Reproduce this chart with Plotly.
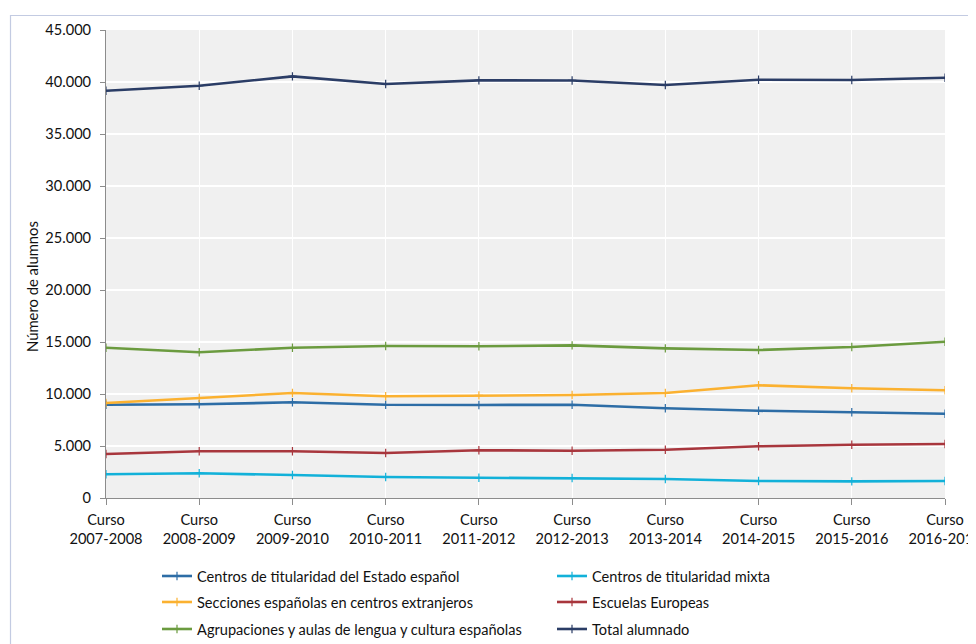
import plotly.graph_objects as go

categories = ["Curso<br>2007-2008", "Curso<br>2008-2009", "Curso<br>2009-2010", "Curso<br>2010-2011",
              "Curso<br>2011-2012", "Curso<br>2012-2013", "Curso<br>2013-2014", "Curso<br>2014-2015",
              "Curso<br>2015-2016", "Curso<br>2016-2017"]

estado = [8970, 9010, 9200, 8970, 8940, 8970, 8630, 8390, 8240, 8100]
mixta = [2280, 2380, 2210, 2020, 1950, 1920, 1830, 1640, 1600, 1640]
secciones = [9130, 9610, 10100, 9780, 9870, 9900, 10100, 10840, 10550, 10360]
escuelas = [4230, 4490, 4490, 4330, 4590, 4550, 4640, 4970, 5120, 5190]
agrupaciones = [14450, 14010, 14450, 14610, 14590, 14680, 14390, 14230, 14520, 15030]
total = [39160, 39640, 40540, 39810, 40160, 40150, 39710, 40220, 40190, 40410]

y_ticks = [0, 5000, 10000, 15000, 20000, 25000, 30000, 35000, 40000, 45000]
y_ticklabels = ["0", "5.000", "10.000", "15.000", "20.000", "25.000", "30.000", "35.000", "40.000", "45.000"]

series = [
    ("Centros de titularidad del Estado español", estado, "#2d6da6", "legend"),
    ("Centros de titularidad mixta", mixta, "#12b1d9", "legend"),
    ("Secciones españolas en centros extranjeros", secciones, "#fbb130", "legend2"),
    ("Escuelas Europeas", escuelas, "#a8363d", "legend2"),
    ("Agrupaciones y aulas de lengua y cultura españolas", agrupaciones, "#6b9b3f", "legend3"),
    ("Total alumnado", total, "#2b3d66", "legend3"),
]

FS = 14.6

fig = go.Figure()
for name, vals, col, lg in series:
    fig.add_trace(go.Scatter(
        x=list(range(len(categories))), y=vals, name=name, mode="lines+markers",
        line=dict(color=col, width=2.6), legend=lg,
        marker=dict(symbol="cross-thin-open", size=6, line=dict(color=col, width=1.2)),
    ))

OFF = 8  # page body margin
W, H = 976 - OFF, 644 - OFF
# plot area in page pixels: x 106..945, y 30..498
L, T = 106 - OFF, 30 - OFF
R = W - (945 - OFF)
B = H - (498 - OFF)
pw, ph = W - L - R, H - T - B

def px_x(p):
    return (p - OFF - L) / pw

def px_y(p):
    return (H - B - (p - OFF)) / ph

fig.add_shape(type="rect", xref="paper", yref="paper",
              x0=px_x(10.5), x1=px_x(1000), y0=px_y(15.5), y1=px_y(700),
              line=dict(color="#c3cbe2", width=1.2), fillcolor="rgba(0,0,0,0)", layer="below")

fig.add_annotation(text="Número de alumnos", xref="paper", yref="paper",
                   x=px_x(32), y=px_y(287), textangle=-90, showarrow=False,
                   font=dict(size=14.8, color="#111111"), xanchor="center", yanchor="middle")

def leg(top_page):
    return dict(orientation="h", xref="container", yref="container",
                x=(149 - OFF + 8) / W, y=1 - (top_page - OFF) / H, xanchor="left", yanchor="top",
                entrywidth=350, entrywidthmode="pixels", itemwidth=30,
                font=dict(size=FS, color="#111111"),
                bgcolor="rgba(0,0,0,0)")

fig.update_layout(
    width=W, height=H,
    margin=dict(l=L, r=R, t=T, b=B, autoexpand=False),
    paper_bgcolor="white", plot_bgcolor="#f0f0f0",
    font=dict(family="Lato, 'Open Sans', sans-serif", size=FS, color="#111111"),
    showlegend=True,
    legend=leg(560),
    legend2=leg(586),
    legend3=leg(613),
    xaxis=dict(
        range=[0, len(categories) - 1], tickmode="array",
        tickvals=list(range(len(categories))), ticktext=categories,
        showgrid=True, gridcolor="#ffffff", gridwidth=1,
        showline=True, linecolor="#8c8c8c", linewidth=1,
        ticks="outside", ticklen=6, tickcolor="#8c8c8c",
        zeroline=False, tickfont=dict(size=FS), automargin=False,
        ticklabeloverflow="allow", ticklabelstandoff=2,
    ),
    yaxis=dict(
        range=[0, 45000], tickmode="array", tickvals=y_ticks, ticktext=y_ticklabels,
        showgrid=True, gridcolor="#ffffff", gridwidth=1.5,
        showline=True, linecolor="#8c8c8c", linewidth=1,
        ticks="outside", ticklen=5, tickcolor="#8c8c8c",
        zeroline=False, tickfont=dict(size=FS), automargin=False,
        ticklabelstandoff=6,
    ),
)

fig.write_html("out.html")
